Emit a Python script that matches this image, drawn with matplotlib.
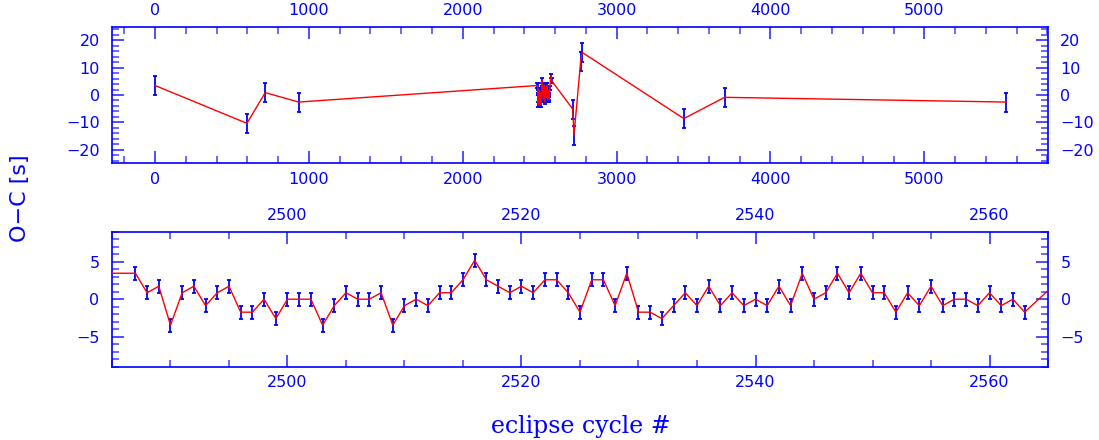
import matplotlib
matplotlib.use("Agg")
import matplotlib.pyplot as plt
from matplotlib.ticker import MultipleLocator
import numpy as np

# eclipse timings: cycle number, O-C [s] and error [s]
cycle_early = [0, 597, 716, 933]
oc_early = [3.46, -10.37, 0.86, -2.59]
err_early = [3.46, 3.46, 3.46, 3.46]

cycle_run = [2484, 2487, 2488, 2489, 2490, 2491, 2492, 2493, 2494, 2495,
             2496, 2497, 2498, 2499, 2500, 2501, 2502, 2503, 2504, 2505,
             2506, 2507, 2508, 2509, 2510, 2511, 2512, 2513, 2514, 2515,
             2516, 2517, 2518, 2519, 2520, 2521, 2522, 2523, 2524, 2525,
             2526, 2527, 2528, 2529, 2530, 2531, 2532, 2533, 2534, 2535,
             2536, 2537, 2538, 2539, 2540, 2541, 2542, 2543, 2544, 2545,
             2546, 2547, 2548, 2549, 2550, 2551, 2552, 2553, 2554, 2555,
             2556, 2557, 2558, 2559, 2560, 2561, 2562, 2563, 2566, 2572,
             2578]
oc_run = [3.46, 3.46, 0.86, 1.73, -3.46, 0.86, 1.73, -0.86, 0.86, 1.73,
          -1.73, -1.73, 0.0, -2.59, 0.0, 0.0, 0.0, -3.46, -0.86, 0.86,
          0.0, 0.0, 0.86, -3.46, -0.86, 0.0, -0.86, 0.86, 0.86, 2.59,
          5.18, 2.59, 1.73, 0.86, 1.73, 0.86, 2.59, 2.59, 0.86, -1.73,
          2.59, 2.59, -0.86, 3.46, -1.73, -1.73, -2.59, -0.86, 0.86, -0.86,
          1.73, -0.86, 0.86, -0.86, 0.0, -0.86, 1.73, -0.86, 3.46, 0.0,
          0.86, 3.46, 0.86, 3.46, 0.86, 0.86, -1.73, 0.86, -0.86, 1.73,
          -0.86, 0.0, 0.0, -0.86, 0.86, -0.86, 0.0, -1.73, 2.59, 6.91,
          5.18]
err_run = [0.86] * len(cycle_run)

cycle_late = [2715, 2723, 2766, 2777, 3437, 3702, 5533]
oc_late = [-5.18, -14.7, 12.1, 15.55, -8.64, -0.86, -2.59]
err_late = [3.46, 3.46, 3.46, 3.46, 3.46, 3.46, 3.46]

blue = "#0000ff"
tickblue = "#4040ff"
red = "#ff0000"


def style_axes(ax, xmaj, xmin, ymaj, ymin):
    for s in ax.spines.values():
        s.set_color(blue)
        s.set_linewidth(1.2)
    ax.xaxis.set_major_locator(MultipleLocator(xmaj))
    ax.xaxis.set_minor_locator(MultipleLocator(xmin))
    ax.yaxis.set_major_locator(MultipleLocator(ymaj))
    ax.yaxis.set_minor_locator(MultipleLocator(ymin))
    ax.tick_params(which="both", direction="in", top=True, right=True,
                   labeltop=True, labelright=True, color=tickblue,
                   labelcolor=blue, labelsize=11.5)
    ax.tick_params(which="major", length=8.5, width=1.3)
    ax.tick_params(which="minor", length=4.7, width=1.1)
    ax.tick_params(axis="x", pad=6)
    ax.tick_params(axis="y", pad=9)


def panel(ax, x, y, e):
    ax.errorbar(x, y, yerr=e, fmt="none", ecolor=blue, elinewidth=1.3,
                capsize=1.2, capthick=1.3, zorder=2)
    ax.plot(x, y, color=red, lw=1.0, zorder=3)


def plotten():
    x = np.array(cycle_early + cycle_run + cycle_late)
    y = np.array(oc_early + oc_run + oc_late)
    e = np.array(err_early + err_run + err_late)

    fig = plt.figure(figsize=(10.99, 4.40), dpi=100)
    ax_0 = fig.add_axes([0.1022, 0.6289, 0.8511, 0.3105])
    ax_1 = fig.add_axes([0.1019, 0.1666, 0.8517, 0.3068])

    panel(ax_0, x, y, e)
    ax_0.set_xlim(-278, 5802)
    ax_0.set_ylim(-25, 25)
    style_axes(ax_0, 1000, 200, 10, 2)

    panel(ax_1, x, y, e)
    ax_1.set_xlim(2485, 2565)
    ax_1.set_ylim(-9, 9)
    style_axes(ax_1, 20, 5, 5, 1)

    fig.text(0.018, 0.55, "O\u2212C [s]", rotation=90, color=blue,
             fontsize=16, ha="center", va="center")
    fig.text(0.528, 0.03, "eclipse cycle #", color=blue, fontsize=17,
             family="DejaVu Serif", ha="center", va="center")

    fig.savefig("out.png", dpi=100)


if __name__ == '__main__':
    plotten()
